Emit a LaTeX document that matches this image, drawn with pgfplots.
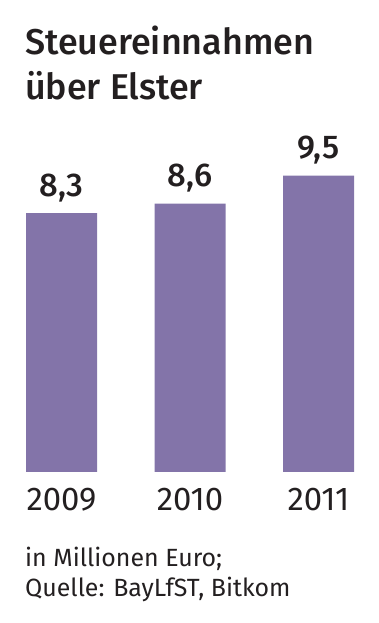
\documentclass[border=0pt]{standalone}
\usepackage{pgfplots}
\pgfplotsset{compat=1.18}
\usepackage{fontspec}
\setmainfont{Fira Sans}[BoldFont={Fira Sans Medium}]
\definecolor{barc}{RGB}{131,116,169}
\definecolor{txt}{RGB}{35,31,32}
\begin{document}
\begin{tikzpicture}[x=1bp,y=1bp]
\useasboundingbox (0,0) rectangle (378,623);
\begin{axis}[
  scale only axis,
  width=378bp, height=472bp,
  at={(0,151bp)}, anchor=south west,
  xmin=-0.4786, xmax=2.463,
  ymin=0, ymax=15.128,
  axis line style={draw=none},
  major tick length=0,
  ytick=\empty,
  xtick=data,
  xticklabels={2009,2010,2011},
  xticklabel style={font=\fontsize{33}{36}\selectfont, text=txt, anchor=base, yshift=-39bp},
  nodes near coords,
  nodes near coords style={font=\fontsize{33}{36}\selectfont\bfseries, text=txt, anchor=base, yshift=17bp},
  point meta=explicit symbolic,
  clip=false,
]
\addplot[ybar, bar width=71bp, fill=barc, draw=none] coordinates {(0,8.3) [8,3] (1,8.6) [8,6] (2,9.5) [9,5]};
\end{axis}
\node[anchor=base west, inner sep=0, text=txt, font=\fontsize{36}{40}\selectfont\bfseries] at (25,568) {Steuereinnahmen};
\node[anchor=base west, inner sep=0, text=txt, font=\fontsize{36}{40}\selectfont\bfseries] at (25,523) {über Elster};
\node[anchor=base west, inner sep=0, text=txt, font=\fontsize{25}{30}\selectfont] at (25,56) {in Millionen Euro;};
\node[anchor=base west, inner sep=0, text=txt, font=\fontsize{25}{30}\selectfont] at (25,26) {Quelle: BayLfST, Bitkom};
\end{tikzpicture}
\end{document}
